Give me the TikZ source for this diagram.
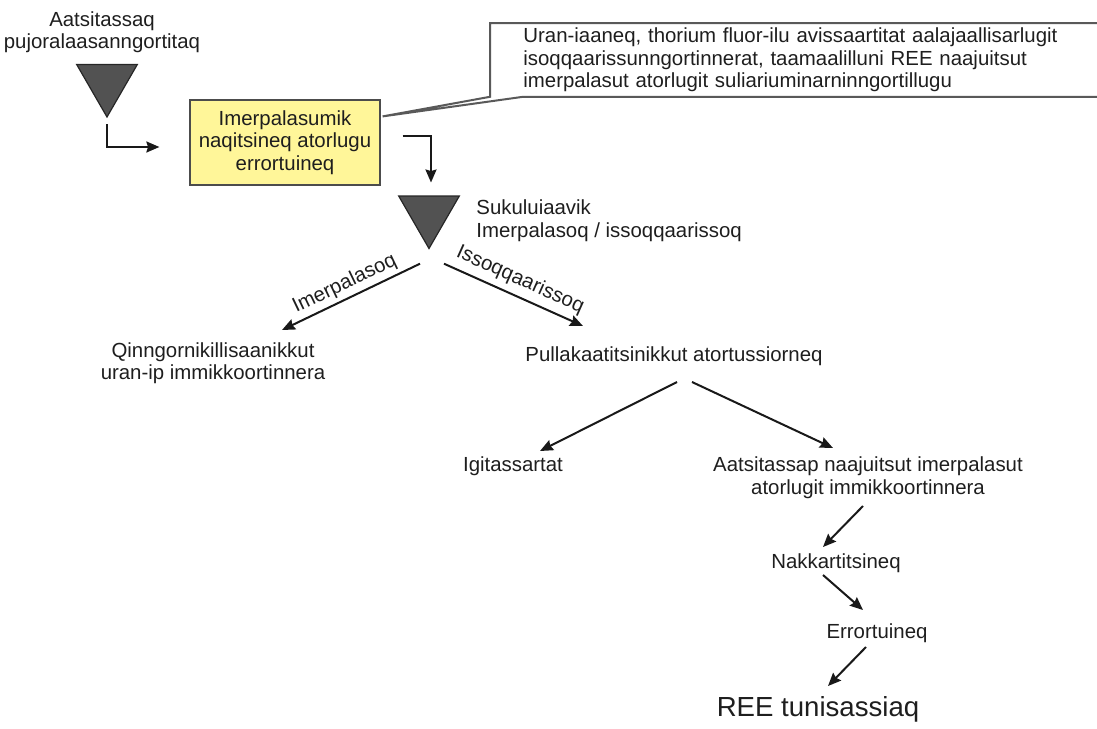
\documentclass[tikz,border=0pt]{standalone}
\usepackage{fontspec}
\setmainfont{Liberation Sans}
\usetikzlibrary{arrows.meta,shapes.geometric}
\definecolor{boxyellow}{RGB}{255,246,153}
\definecolor{inkgray}{RGB}{30,30,30}
\tikzstyle{hopper} = [regular polygon, regular polygon sides=3, shape border rotate=180,
    draw=black!85, fill=black!68, line width=0.6pt, minimum size=35pt, inner sep=0pt]
\tikzstyle{procbox} = [rectangle, draw=black!70, fill=boxyellow, line width=0.6pt,
    align=center, minimum width=95pt, minimum height=42.5pt, inner sep=0pt, text=inkgray]
\tikzstyle{notebox} = [anchor=north west, align=left, text width=285pt, inner xsep=16.5pt,
    inner ysep=0pt, minimum height=36.5pt, text=inkgray]
\tikzstyle{lbl} = [align=center, inner sep=0pt, text=inkgray]
\tikzstyle{flow} = [->, line width=1pt, draw=black!90]

\begin{document}
\begin{tikzpicture}[x=0.5pt,y=-0.5pt,>={Stealth[length=6.5pt,width=5.5pt,inset=0.8pt]},
                    font=\fontsize{10.2}{11.25}\selectfont]
  \useasboundingbox (0,0) rectangle (1097,728);

  \node[lbl]      (src)   at (102,32)    {Aatsitassaq\\pujoralaasanngortitaq};
  \node[hopper]   (hop1)  at (107,82)    {};
  \node[procbox]  (crush) at (285,142.5) {Imerpalasumik\\naqitsineq atorlugu\\errortuineq};
  \node[notebox]  (note)  at (490,23)    {Uran-iaaneq, thorium fluor-ilu avissaartitat aalajaallisarlugit\\
                                          isoqqaarissunngortinnerat, taamaalilluni REE naajuitsut\\
                                          imerpalasut atorlugit suliariuminarninngortillugu};
  \node[hopper]   (hop2)  at (429,213.5) {};
  \node[lbl,align=left,anchor=west] (sort) at (476,220.5) {Sukuluiaavik\\Imerpalasoq / issoqqaarissoq};
  \node[lbl]      (rad)   at (213,363)   {Qinngornikillisaanikkut\\uran-ip immikkoortinnera};
  \node[lbl]      (flot)  at (674,356)   {Pullakaatitsinikkut atortussiorneq};
  \node[lbl]      (tail)  at (513,466)   {Igitassartat};
  \node[lbl]      (conc)  at (868,477.5) {Aatsitassap naajuitsut imerpalasut\\atorlugit immikkoortinnera};
  \node[lbl]      (dry)   at (836,563)   {Nakkartitsineq};
  \node[lbl]      (grind) at (877,633)   {Errortuineq};
  \node[lbl,font=\fontsize{13.8}{16}\selectfont] (ree) at (818,709) {REE tunisassiaq};

  % callout round the note
  \draw[draw=black!65, line width=1pt]
        (note.south west) -- (note.north west) -- (note.north east) -- (note.south east)
        -- ([xshift=16.5pt]note.south west) -- ([shift={(2,17)}]crush.north east) -- cycle;

  \draw[flow] ([yshift=-3pt]hop1.corner 1) |- ([shift={(-30,4.5)}]crush.west);
  \draw[flow] ([shift={(22,37)}]crush.north east) -| ([shift={(2,-31)}]hop2.center);

  \draw[flow] ([shift={(-9,14)}]hop2.corner 1)
        -- node[lbl,above=2pt,sloped] {Imerpalasoq} ([shift={(69,-33)}]rad.center);
  \draw[flow] ([shift={(15,14)}]hop2.corner 1)
        -- node[lbl,above=3pt,sloped] {Issoqqaarissoq} ([shift={(-91,-30)}]flot.center);
  \draw[flow] ([shift={(3,26)}]flot.center)    -- ([shift={(27,-15)}]tail.center);
  \draw[flow] ([shift={(18,26)}]flot.center)   -- ([shift={(-35,-29.5)}]conc.center);
  \draw[flow] ([shift={(-5,28.5)}]conc.center) -- ([shift={(-13,-16)}]dry.center);
  \draw[flow] ([shift={(-13,12)}]dry.center)   -- ([shift={(-14,-23)}]grind.center);
  \draw[flow] ([shift={(-11,14)}]grind.center) -- ([shift={(10,-23)}]ree.center);
\end{tikzpicture}
\end{document}
